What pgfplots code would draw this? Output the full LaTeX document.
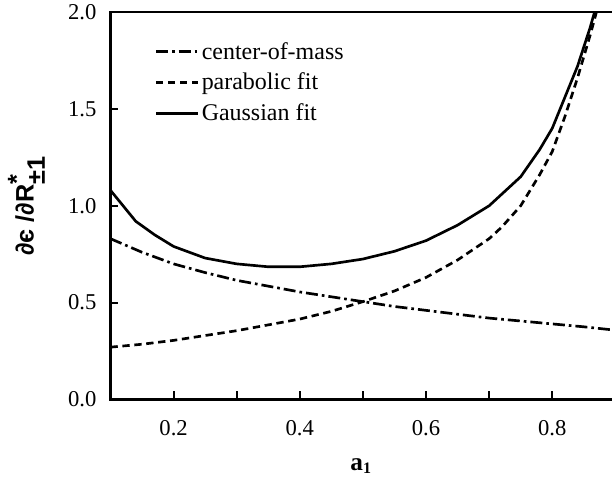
\documentclass[border=0pt]{standalone}
\usepackage{pgfplots}
\pgfplotsset{compat=1.18}
\usepackage{fontspec}
\setmainfont{Liberation Serif}
\setsansfont{Liberation Sans}
\begin{document}
\begin{tikzpicture}
\begin{axis}[
  name=ax,
  width=376pt, height=291pt, scale only axis,
  xmin=0.1, xmax=0.893, ymin=0, ymax=2.0,
  axis line style={draw=none},
  xtick pos=bottom, ytick pos=left,
  xtick={0.2,0.4,0.6,0.8}, minor xtick={0.3,0.5,0.7},
  ytick={0,0.5,1.0,1.5,2.0},
  xticklabels={0.2,0.4,0.6,0.8},
  yticklabels={0.0,0.5,1.0,1.5,2.0},
  tick align=inside,
  major tick length=6pt, minor tick length=6pt,
  tick style={line width=1.4pt, black},
  ticklabel style={font=\fontsize{17}{20}\selectfont},
  xticklabel style={yshift=-12pt},
  yticklabel style={xshift=-7pt},
  xlabel={\textbf{a}\raisebox{-0.3ex}{\fontsize{12}{14}\selectfont\textbf{1}}},
  every axis x label/.style={at={(rel axis cs:0.5,-0.172)}, anchor=center,
    font=\fontsize{19}{22}\selectfont},
  ylabel={∂є /∂R$^{\textsf{\bfseries *}}_{\textsf{\bfseries ±1}}$},
  every axis y label/.style={at={(rel axis cs:-0.168,0.5)}, rotate=90, anchor=center,
    font=\fontsize{19}{22}\selectfont\sffamily\bfseries},
  legend style={draw=none, fill=none, inner sep=0pt, at={(0.088,0.93)}, anchor=north west,
    font=\fontsize{18}{20}\selectfont, row sep=5pt},
  legend cell align=left,
  legend image code/.code={\draw[#1] (0cm,0cm) -- (1.1cm,0cm);},
]
\addplot[black, line width=2pt, dash pattern=on 9pt off 3pt on 2pt off 3pt] coordinates {
(0.10,0.83) (0.15,0.76) (0.20,0.70) (0.25,0.655) (0.30,0.615) (0.35,0.585)
(0.40,0.555) (0.45,0.53) (0.50,0.505) (0.55,0.48) (0.60,0.46) (0.65,0.44)
(0.70,0.42) (0.75,0.405) (0.80,0.39) (0.85,0.375) (0.893,0.36)};
\addlegendentry{center-of-mass}
\addplot[black, line width=2pt, dash pattern=on 5.5pt off 3.5pt] coordinates {
(0.10,0.27) (0.15,0.285) (0.20,0.305) (0.25,0.33) (0.30,0.355) (0.35,0.385)
(0.40,0.415) (0.45,0.455) (0.50,0.505) (0.55,0.56) (0.60,0.63) (0.65,0.72)
(0.70,0.83) (0.72,0.89) (0.75,1.00) (0.78,1.16) (0.80,1.28) (0.82,1.46)
(0.84,1.66) (0.86,1.88) (0.87,2.0)};
\addlegendentry{parabolic fit}
\addplot[black, line width=2pt] coordinates {
(0.10,1.08) (0.12,1.00) (0.14,0.92) (0.17,0.85) (0.20,0.79) (0.25,0.73)
(0.30,0.70) (0.35,0.685) (0.40,0.685) (0.45,0.70) (0.50,0.725) (0.55,0.765)
(0.60,0.82) (0.65,0.90) (0.70,1.00) (0.72,1.06) (0.75,1.15) (0.78,1.29)
(0.80,1.40) (0.82,1.56) (0.84,1.72) (0.86,1.92) (0.867,2.0)};
\addlegendentry{Gaussian fit}
% tick marks drawn as short data segments
\pgfplotsinvokeforeach{0.2,0.3,0.4,0.5,0.6,0.7,0.8}{
  \addplot[forget plot, black, line width=1.4pt] coordinates {(#1,0) (#1,0.041)};
}
\pgfplotsinvokeforeach{0,0.5,1.0,1.5,2.0}{
  \addplot[forget plot, black, line width=1.4pt] coordinates {(0.1,#1) (0.1127,#1)};
}
\end{axis}
\draw[line width=1.6pt, line cap=rect] (ax.north east) -- (ax.north west) -- (ax.south west) -- (ax.south east);
\path (ax.south west) ++(-83pt,-64pt);
\end{tikzpicture}
\end{document}
